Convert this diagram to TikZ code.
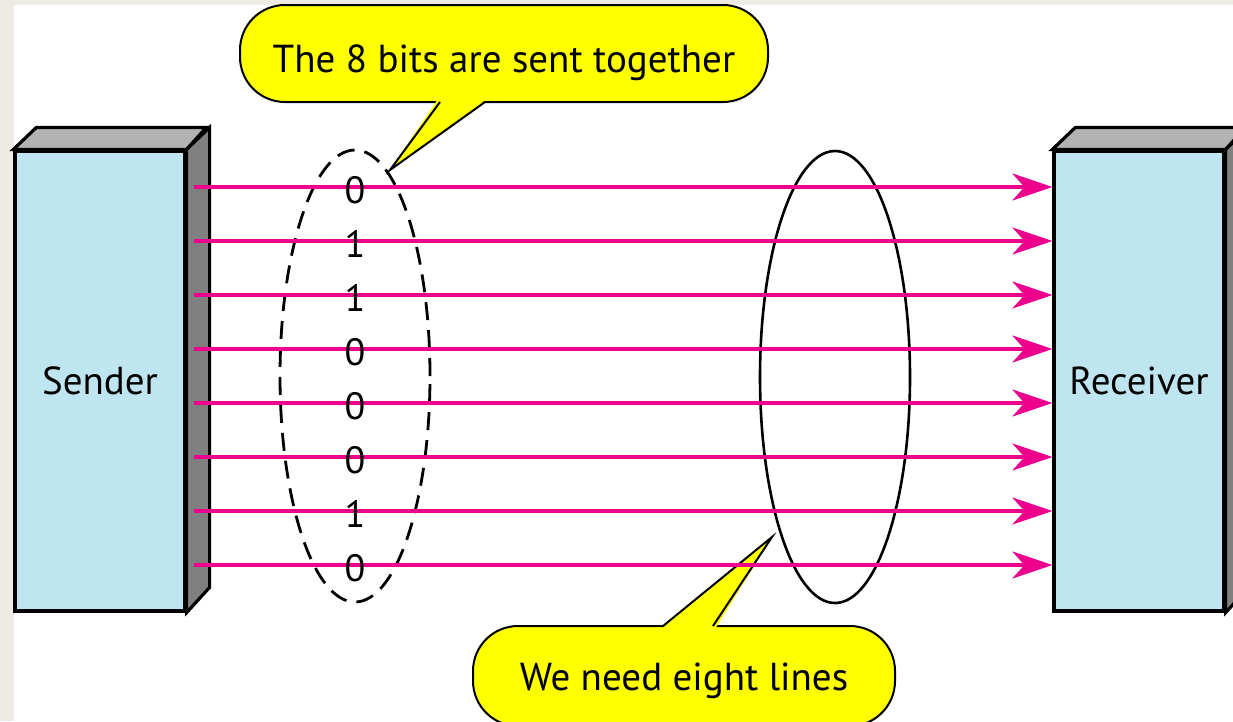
\documentclass[tikz,border=0pt]{standalone}
\usepackage{fontspec}
\setmainfont{PT Sans}
\usetikzlibrary{shapes.geometric,arrows.meta}
\definecolor{bg}{RGB}{238,235,228}
\definecolor{boxblue}{RGB}{191,230,240}
\definecolor{topgray}{RGB}{179,179,179}
\definecolor{sidegray}{RGB}{128,128,128}
\definecolor{sig}{RGB}{236,0,140}
\definecolor{callyellow}{RGB}{255,255,0}
\begin{document}
\begin{tikzpicture}[x=1pt,y=-1pt,
  face/.style={draw=black, line width=3.2pt, fill=boxblue, minimum width=170pt, minimum height=460pt, inner sep=0pt, font=\fontsize{39}{44}\selectfont},
  topface/.style={draw=black, line width=3.2pt, fill=topgray, line join=miter},
  sideface/.style={draw=black, line width=3.2pt, fill=sidegray, line join=miter},
  bitline/.style={draw=sig, line width=3.6pt, -{Stealth[length=40pt,width=27pt,inset=12pt]}},
  bit/.style={font=\fontsize{38}{42}\selectfont, inner sep=0pt},
  callout/.style={draw=black, line width=2pt, fill=callyellow, rounded corners=45pt, inner sep=0pt, font=\fontsize{39}{44}\selectfont},
  tailfill/.style={fill=callyellow},
  tailedge/.style={draw=black, line width=2pt, line join=miter},
  group/.style={ellipse, draw=black, line width=2.6pt, inner sep=0pt, minimum width=150pt, minimum height=452pt},
  dashgroup/.style={group, line width=2.8pt, dash pattern=on 18pt off 10pt},
]
\useasboundingbox (0,0) rectangle (1233,721);
\clip (0,0) rectangle (1233,721);
\fill[bg] (0,0) rectangle (1233,721);
\fill[white] (14,5) rectangle (1233,721);

% callouts
\node[callout, minimum width=528pt, minimum height=97pt, text height=40pt, text depth=3pt] (c1) at (504,53.5) {The 8 bits are sent together};
\coordinate (c1a) at (440,102);
\coordinate (c1b) at (485,102);
\coordinate (c1t) at (390,170);
\fill[tailfill] (438,99) -- (c1t) -- (487,99) -- cycle;
\draw[tailedge] (c1a) -- (c1t) -- (c1b);

\node[callout, minimum width=422pt, minimum height=100pt, text height=32pt, text depth=4pt] (c2) at (684,676) {We need eight lines};
\coordinate (c2a) at (663,626);
\coordinate (c2b) at (713,626);
\coordinate (c2t) at (772,537);
\fill[tailfill] (661,629) -- (c2t) -- (715,629) -- cycle;
\draw[tailedge] (c2a) -- (c2t) -- (c2b);

% groups
\node[dashgroup] (g1) at (355,376) {};
\node[group] (g2) at (835,377) {};

% sender
\node[face] (sender) at (100,381) {Sender};
\draw[topface] (sender.north west) -- ++(23,-22) -- ++(170,0) -- (sender.north east) -- cycle;
\draw[sideface] (sender.north east) -- ++(23,-22) -- ++(0,460) -- (sender.south east) -- cycle;

% receiver
\node[face] (receiver) at (1139,381) {Receiver};
\draw[topface] (receiver.north west) -- ++(23,-22) -- ++(170,0) -- (receiver.north east) -- cycle;
\draw[sideface] (receiver.north east) -- ++(23,-22) -- ++(0,460) -- (receiver.south east) -- cycle;

% lines and bits
\foreach \i/\b in {0/0,1/1,2/1,3/0,4/0,5/0,6/1,7/0} {
  \coordinate (s\i) at (194,187+54*\i);
  \draw[bitline] (s\i) -- (receiver.west |- s\i);
  \node[bit] (b\i) at (355,190+54*\i) {\b};
}
\end{tikzpicture}
\end{document}
